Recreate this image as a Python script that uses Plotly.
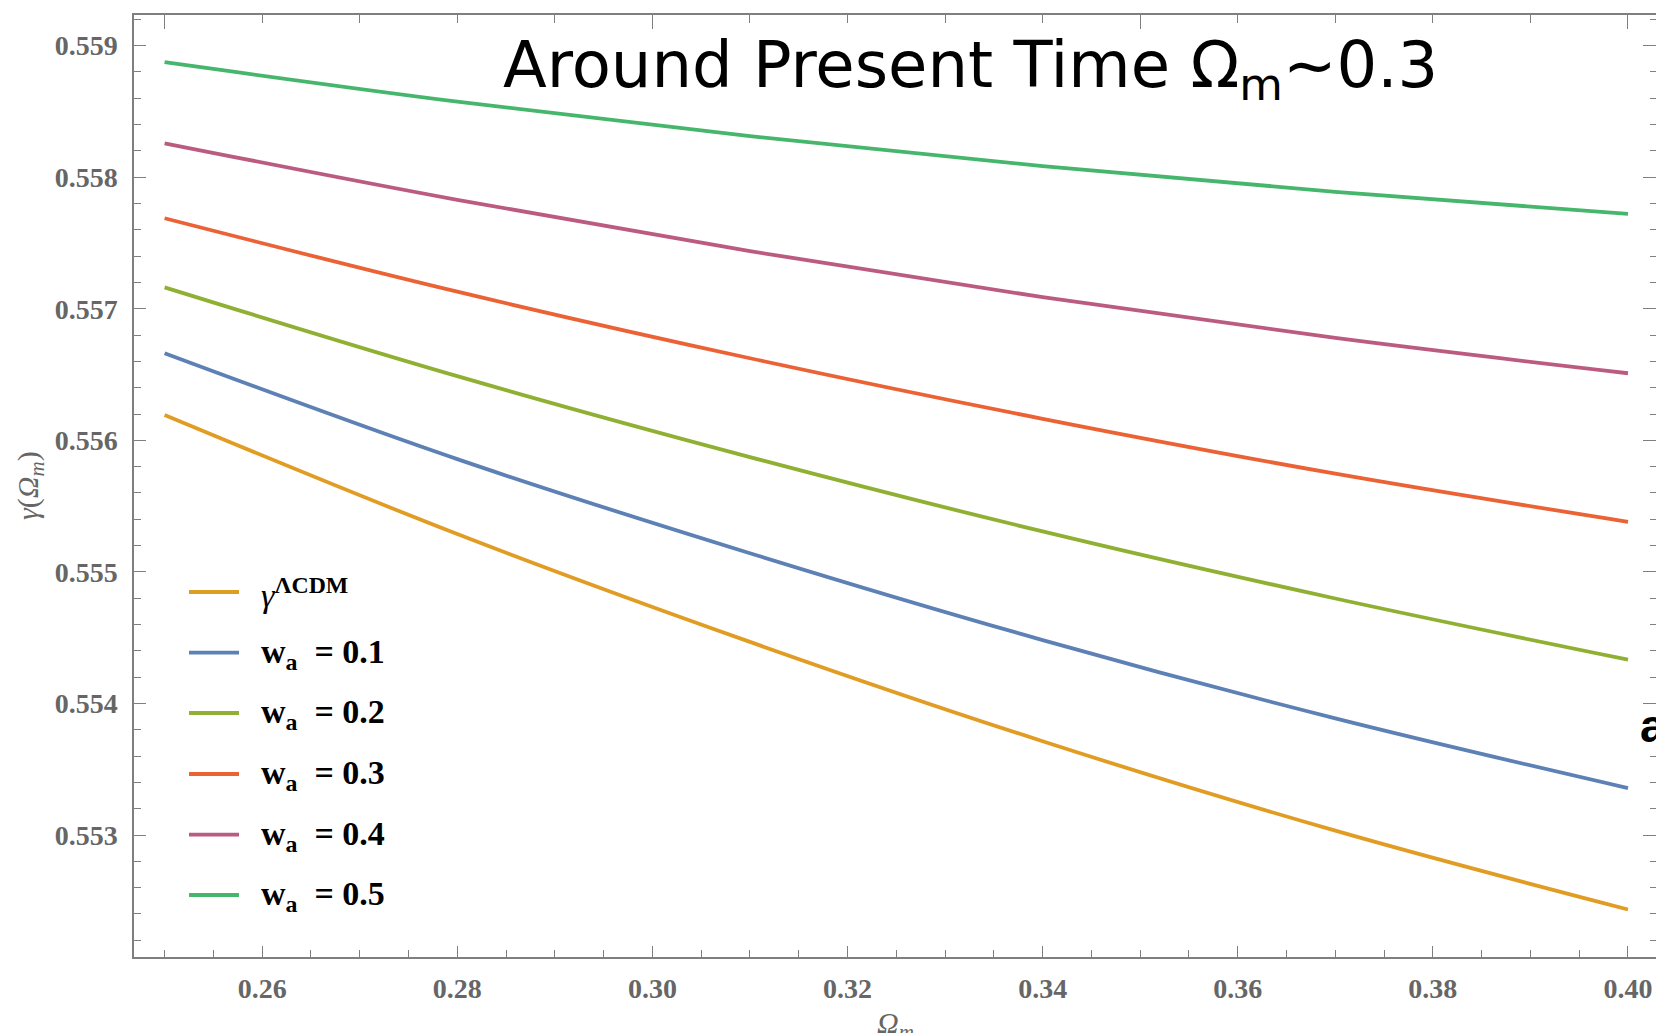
import plotly.graph_objects as go

# ---- data ----
omega_m = [0.25, 0.28, 0.31, 0.34, 0.37, 0.40]
gamma_lcdm = [0.556193, 0.555288, 0.554468, 0.553713, 0.553033, 0.552434]
wa_01 = [0.556662, 0.555857, 0.555142, 0.554482, 0.553887, 0.553357]
wa_02 = [0.557163, 0.556488, 0.555873, 0.555308, 0.554798, 0.554333]
wa_03 = [0.557688, 0.557130, 0.556624, 0.556164, 0.555747, 0.555381]
wa_04 = [0.558258, 0.557828, 0.557438, 0.557088, 0.556778, 0.556510]
wa_05 = [0.558874, 0.558574, 0.558312, 0.558084, 0.557889, 0.557721]

series_names = [
    "<i>γ</i><sup><b>ΛCDM</b></sup>",
    "<b>w<sub>a</sub>  = 0.1</b>",
    "<b>w<sub>a</sub>  = 0.2</b>",
    "<b>w<sub>a</sub>  = 0.3</b>",
    "<b>w<sub>a</sub>  = 0.4</b>",
    "<b>w<sub>a</sub>  = 0.5</b>",
]
series_values = [gamma_lcdm, wa_01, wa_02, wa_03, wa_04, wa_05]
series_colors = ["#E19C24", "#5E81B5", "#8FB032", "#EB6235", "#BC5B80", "#47B66D"]

title_text = "Around Present Time Ω<sub>m</sub>~0.3"
x_label = "<i>Ω<sub>m</sub></i>"
y_label = "<i>γ</i>(<i>Ω<sub>m</sub></i>)"

W, H = 1656, 1033
L, T, B = 134, 15, 76
plot_w = W - L
plot_h = H - T - B

def px2paper_x(px):
    return (px - L) / plot_w

def px2paper_y(py):
    return (H - B - py) / plot_h

x_range = [0.246863, 0.402871]
y_range = [0.552073, 0.559233]

AX = "#7f7f7f"
TICKFONT = dict(family="Liberation Serif", size=28, color="#666666", weight="bold")

fig = go.Figure()
for name, vals, col in zip(series_names, series_values, series_colors):
    fig.add_trace(go.Scatter(x=omega_m, y=vals, mode="lines", name=name,
                             line=dict(color=col, width=3.8, shape="spline", smoothing=1.0),
                             showlegend=False, xaxis="x", yaxis="y"))

# invisible trace to activate the top/right tick axes
fig.add_trace(go.Scatter(x=[omega_m[0]], y=[gamma_lcdm[0]], mode="markers",
                         marker=dict(opacity=0), showlegend=False,
                         xaxis="x2", yaxis="y2", hoverinfo="skip"))

fig.update_layout(
    width=W, height=H,
    margin=dict(l=L, r=0, t=T, b=B, pad=0),
    paper_bgcolor="white", plot_bgcolor="white",
    xaxis=dict(range=x_range, showgrid=False, zeroline=False,
               showline=True, linecolor=AX, linewidth=1.5, mirror=True,
               ticks="inside", ticklen=11, tickwidth=1.2, tickcolor=AX,
               tick0=0, dtick=0.02, tickformat=".2f",
               minor=dict(ticks="inside", ticklen=7, tickwidth=1, tickcolor=AX,
                          dtick=0.005, tick0=0, showgrid=False),
               tickfont=TICKFONT, ticklabelstandoff=6, automargin=False),
    yaxis=dict(range=y_range, showgrid=False, zeroline=False,
               showline=True, linecolor=AX, linewidth=1.5, mirror=False,
               ticks="inside", ticklen=12, tickwidth=1.2, tickcolor=AX,
               tick0=0, dtick=0.001, tickformat=".3f",
               minor=dict(ticks="inside", ticklen=7, tickwidth=1, tickcolor=AX,
                          dtick=0.0002, tick0=0, showgrid=False),
               tickfont=TICKFONT, ticklabelstandoff=9, automargin=False),
    xaxis2=dict(range=x_range, overlaying="x", side="top", showgrid=False,
                zeroline=False, showline=False, showticklabels=False,
                ticks="inside", ticklen=14, tickwidth=1.2, tickcolor=AX,
                tick0=0, dtick=0.05,
                minor=dict(ticks="inside", ticklen=8, tickwidth=1, tickcolor=AX,
                           dtick=0.01, tick0=0, showgrid=False),
                automargin=False),
    yaxis2=dict(range=y_range, overlaying="y", side="right", showgrid=False,
                zeroline=False, showline=False, showticklabels=False,
                ticks="inside", ticklen=13, tickwidth=1.2, tickcolor=AX,
                tick0=0, dtick=0.001,
                minor=dict(ticks="inside", ticklen=6, tickwidth=1, tickcolor=AX,
                           dtick=0.0002, tick0=0, showgrid=False),
                automargin=False),
)

annotations = []
shapes = []

# manual legend
legend_y_px = [592, 652.7, 713, 774, 834.7, 895]
for name, col, ypx in zip(series_names, series_colors, legend_y_px):
    shapes.append(dict(type="line", xref="paper", yref="paper",
                       x0=px2paper_x(189), x1=px2paper_x(239),
                       y0=px2paper_y(ypx), y1=px2paper_y(ypx),
                       line=dict(color=col, width=3.8)))
    annotations.append(dict(xref="paper", yref="paper", x=px2paper_x(259),
                            y=px2paper_y(ypx + 1), xanchor="left", yanchor="middle",
                            text=name, showarrow=False,
                            font=dict(family="Liberation Serif", size=34, color="black")))

# title
annotations.append(dict(xref="paper", yref="paper", x=px2paper_x(970), y=px2paper_y(70),
                        xanchor="center", yanchor="middle", text=title_text,
                        showarrow=False,
                        font=dict(family="DejaVu Sans", size=64, color="black")))
# axis labels
annotations.append(dict(xref="paper", yref="paper", x=px2paper_x(30), y=px2paper_y(486),
                        xanchor="center", yanchor="middle", text=y_label,
                        textangle=-90, showarrow=False,
                        font=dict(family="Liberation Serif", size=30, color="#666666")))
annotations.append(dict(xref="paper", yref="paper", x=px2paper_x(895), y=px2paper_y(1004),
                        xanchor="center", yanchor="top", text=x_label,
                        showarrow=False,
                        font=dict(family="Liberation Serif", size=30, color="#666666")))
# stray panel letter at right edge
annotations.append(dict(xref="paper", yref="paper", x=px2paper_x(1638), y=px2paper_y(726),
                        xanchor="left", yanchor="middle", text="<b>a</b>",
                        showarrow=False,
                        font=dict(family="Liberation Sans", size=46, color="black")))

fig.update_layout(annotations=annotations, shapes=shapes)

fig.write_html("out.html", config={"displayModeBar": False})
